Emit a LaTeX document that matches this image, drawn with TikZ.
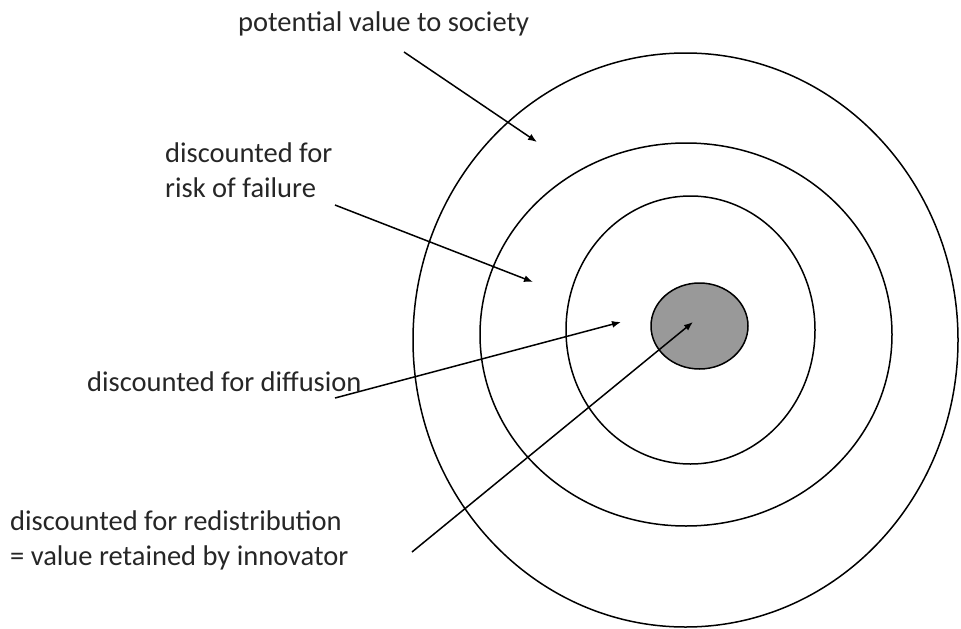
\documentclass[tikz,border=0pt]{standalone}
\usepackage{fontspec}
\setmainfont{Carlito}
\usepackage{tikz}
\usetikzlibrary{shapes,arrows.meta,positioning}

\begin{document}
\begin{tikzpicture}[x=1pt, y=-1pt,
        ring/.style={ellipse, draw, line width=1.5pt, inner sep=0pt},
        core/.style={ring, fill=black!40},
        label/.style={anchor=base west, inner sep=0pt, align=left, text=black!85,
            font=\fontsize{28.5}{34.5}\selectfont},
        pointer/.style={-{Latex[length=9pt,width=7pt]}, line width=1.5pt},
    ]
        \useasboundingbox (0,0) rectangle (961,629);

        % rings
        \node[ring, minimum width=545pt, minimum height=574pt] (society) at (685.5,340) {};
        \node[ring, minimum width=412pt, minimum height=383pt] (failure) at (686,334.5) {};
        \node[ring, minimum width=249pt, minimum height=268pt] (diffusion) at (690.5,330) {};
        \node[core, minimum width=97pt, minimum height=86pt] (innovator) at (699.5,326) {};

        % labels (base = last line)
        \node[label] (lbl_society) at (238,31) {potential value to society};
        \node[label] (lbl_failure) at (165,197) {discounted for\\risk of failure};
        \node[label] (lbl_diffusion) at (87,391) {discounted for diffusion};
        \node[label] (lbl_redist) at (10,565) {discounted for redistribution\\= value retained by innovator};

        % arrow ends
        \coordinate (tail_a) at (404,52);
        \coordinate (head_a) at (537,142);
        \coordinate (tail_b) at (335,205);
        \coordinate (head_b) at (533,282);
        \coordinate (tail_c) at (335,398);
        \coordinate (head_c) at (621,322);
        \coordinate (tail_d) at (412,552);
        \coordinate (head_d) at (693,322);

        \draw[pointer] (tail_a) -- (head_a);
        \draw[pointer] (tail_b) -- (head_b);
        \draw[pointer] (tail_c) -- (head_c);
        \draw[pointer] (tail_d) -- (head_d);
    \end{tikzpicture}
\end{document}
